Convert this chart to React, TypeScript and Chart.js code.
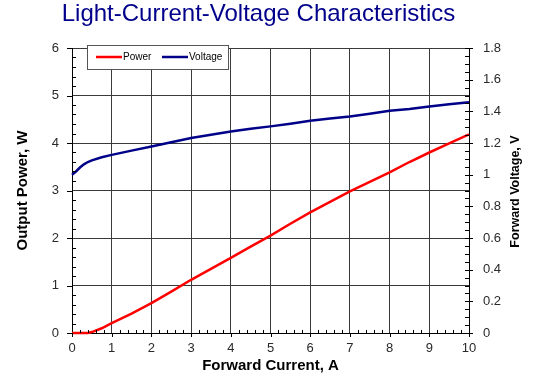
import React, { useEffect, useRef } from "react";
import { Chart, registerables } from "chart.js";

Chart.register(...registerables);

const TITLE = "Light-Current-Voltage Characteristics";
const X_TITLE = "Forward Current, A";
const Y_LEFT_TITLE = "Output Power, W";
const Y_RIGHT_TITLE = "Forward Voltage, V";

const currents = [0, 0.1, 0.2, 0.3, 0.4, 0.5, 0.75, 1, 1.5, 2, 2.5, 3, 3.5, 4, 4.5, 5, 5.5, 6, 6.5, 7, 7.5, 8, 8.5, 9, 9.5, 10];
const power = [0, 0, 0, 0, 0, 0.02, 0.1, 0.21, 0.41, 0.63, 0.87, 1.12, 1.35, 1.58, 1.82, 2.05, 2.3, 2.54, 2.76, 2.98, 3.18, 3.38, 3.6, 3.8, 3.99, 4.18];
const voltage = [1.0, 1.02, 1.045, 1.065, 1.08, 1.09, 1.11, 1.125, 1.152, 1.178, 1.205, 1.232, 1.252, 1.272, 1.29, 1.305, 1.322, 1.34, 1.355, 1.368, 1.385, 1.403, 1.415, 1.43, 1.445, 1.458];

const seriesLabels = ["Power", "Voltage"];
const seriesColors = ["#FF0000", "#000088"];

const FONT = "'Liberation Sans', Arial, Helvetica, sans-serif";

const ticksPlugin = {
  id: "customTicks",
  afterDraw(chart: any) {
    const ctx = chart.ctx;
    const { x, y, y2 } = chart.scales;
    const area = chart.chartArea;
    ctx.save();
    ctx.strokeStyle = "#000";
    ctx.lineWidth = 1;
    ctx.beginPath();
    const seg = (x1: number, y1: number, x2: number, yy2: number) => {
      ctx.moveTo(x1, y1);
      ctx.lineTo(x2, yy2);
    };
    const al = (v: number) => Math.round(v) + 0.5;
    // bottom axis
    const xb = area.bottom;
    for (let i = 0; i <= 50; i++) {
      const v = x.min + i * 0.2;
      if (v > x.max + 1e-9) break;
      const px = al(x.getPixelForValue(v));
      if (i % 5 === 0) seg(px, xb, px, xb + 4);
      else seg(px, xb, px, xb - 3);
    }
    // left axis
    const yl = area.left;
    for (let i = 0; i <= 30; i++) {
      const v = y.min + i * 0.2;
      if (v > y.max + 1e-9) break;
      const py = al(y.getPixelForValue(v));
      if (i % 5 === 0) seg(yl - 5, py, yl, py);
      else seg(yl, py, yl + 4, py);
    }
    // right axis
    const yr = area.right;
    for (let i = 0; i <= 36; i++) {
      const v = y2.min + i * 0.05;
      if (v > y2.max + 1e-9) break;
      const py = al(y2.getPixelForValue(v));
      if (i % 4 === 0) seg(yr - 4, py, yr + 4, py);
      else seg(yr - 4, py, yr, py);
    }
    ctx.stroke();

    // right axis title (reads bottom to top)
    ctx.fillStyle = "#000";
    ctx.font = `bold 12.5px ${FONT}`;
    ctx.textAlign = "center";
    ctx.textBaseline = "middle";
    ctx.translate(y2.right - 1, (area.top + area.bottom) / 2 + 1);
    ctx.rotate(-Math.PI / 2);
    ctx.fillText(Y_RIGHT_TITLE, 0, 0);
    ctx.restore();

    // legend box
    ctx.save();
    const bx = area.left + 15;
    const by = area.top - 3;
    const bw = 141;
    const bh = 24;
    ctx.fillStyle = "#fff";
    ctx.fillRect(bx, by, bw, bh);
    ctx.strokeStyle = "#555";
    ctx.lineWidth = 1;
    ctx.strokeRect(Math.round(bx) + 0.5, Math.round(by) + 0.5, bw, bh);
    ctx.font = `10px ${FONT}`;
    ctx.textBaseline = "middle";
    ctx.textAlign = "left";
    const cy = by + bh / 2;
    const offs = [9, 75];
    chart.data.datasets.forEach((ds: any, i: number) => {
      const sx = bx + offs[i];
      ctx.strokeStyle = ds.borderColor;
      ctx.lineWidth = 2.5;
      ctx.beginPath();
      ctx.moveTo(sx, cy);
      ctx.lineTo(sx + 26, cy);
      ctx.stroke();
      ctx.fillStyle = "#000";
      ctx.fillText(ds.label, sx + 27, cy);
    });
    ctx.restore();
  },
};

export default function App() {
  const ref = useRef<HTMLCanvasElement | null>(null);

  useEffect(() => {
    if (!ref.current) return;
    const chart = new Chart(ref.current, {
      type: "line",
      data: {
        datasets: [
          {
            label: seriesLabels[0],
            data: currents.map((c, i) => ({ x: c, y: power[i] })),
            borderColor: seriesColors[0],
            backgroundColor: seriesColors[0],
            borderWidth: 2.5,
            pointRadius: 0,
            tension: 0,
            yAxisID: "y",
            clip: 4,
          },
          {
            label: seriesLabels[1],
            data: currents.map((c, i) => ({ x: c, y: voltage[i] })),
            borderColor: seriesColors[1],
            backgroundColor: seriesColors[1],
            borderWidth: 2.5,
            pointRadius: 0,
            tension: 0,
            yAxisID: "y2",
            clip: 4,
          },
        ],
      },
      options: {
        responsive: false,
        animation: false,
        devicePixelRatio: 1,
        layout: { padding: { left: 0, right: 17, top: 0, bottom: 0 } },
        plugins: {
          legend: { display: false },
          tooltip: { enabled: false },
          title: {
            display: true,
            text: TITLE,
            color: "#00008B",
            font: { family: FONT, size: 24, weight: "normal", lineHeight: 1 },
            padding: { top: 2, bottom: 22 },
          },
        },
        scales: {
          x: {
            type: "linear",
            min: 0,
            max: 10,
            afterFit: (s: any) => {
              s.height = 47;
            },
            ticks: {
              stepSize: 1,
              color: "#2a2a2a",
              font: { family: FONT, size: 13 },
              padding: 8,
              maxRotation: 0,
            },
            grid: { color: "#3a3a3a", lineWidth: 1, drawTicks: false },
            border: { display: true, color: "#000", width: 1 },
            title: {
              display: true,
              text: X_TITLE,
              color: "#000",
              font: { family: FONT, size: 15, weight: "bold", lineHeight: 1.2 },
              padding: { top: 0, bottom: 5 },
            },
          },
          y: {
            type: "linear",
            position: "left",
            min: 0,
            max: 6,
            afterFit: (s: any) => {
              s.width = 72;
            },
            ticks: {
              stepSize: 1,
              color: "#2a2a2a",
              font: { family: FONT, size: 13 },
              padding: 13,
            },
            grid: { color: "#3a3a3a", lineWidth: 1, drawTicks: false },
            border: { display: true, color: "#000", width: 1 },
            title: {
              display: true,
              text: Y_LEFT_TITLE,
              color: "#000",
              font: { family: FONT, size: 15, weight: "bold", lineHeight: 1.2 },
              padding: { top: 14, bottom: 0 },
            },
          },
          y2: {
            type: "linear",
            position: "right",
            min: 0,
            max: 1.8,
            afterFit: (s: any) => {
              s.width = 48;
            },
            ticks: {
              stepSize: 0.2,
              color: "#2a2a2a",
              font: { family: FONT, size: 13 },
              padding: 14,
              callback: (v: any) => String(Math.round(Number(v) * 10) / 10),
            },
            grid: { display: false, drawTicks: false },
            border: { display: true, color: "#000", width: 1 },
          },
        },
      },
      plugins: [ticksPlugin],
    } as any);
    return () => chart.destroy();
  }, []);

  return (
    <div style={{ position: "absolute", left: 0, top: 0, width: 534, height: 380, background: "#fff" }}>
      <canvas ref={ref} width={534} height={380} style={{ display: "block" }} />
    </div>
  );
}
